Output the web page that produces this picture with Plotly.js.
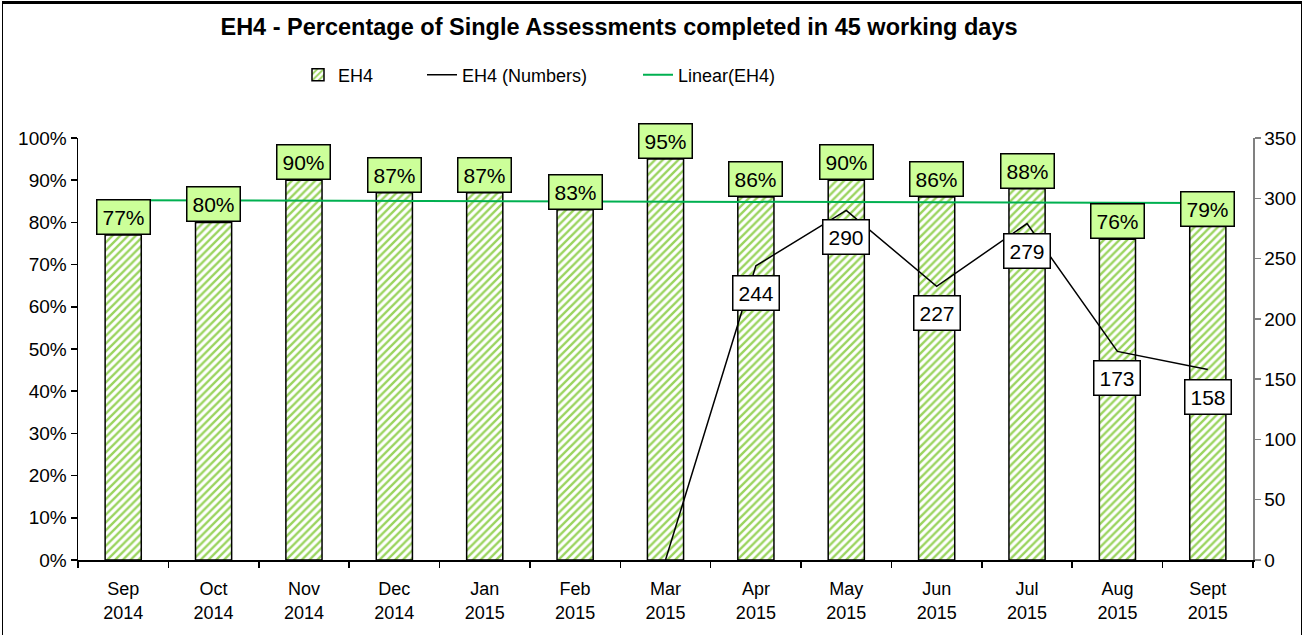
<!DOCTYPE html>
<html>
<head>
<meta charset="utf-8">
<script src="https://cdn.plot.ly/plotly-3.0.1.min.js"></script>
<style>
  html, body { margin: 0; padding: 0; background: #fff; }
  #wrap { position: relative; width: 1306px; height: 635px; }
  #chart { width: 1306px; height: 635px; }
  #frame { position: absolute; left: 2px; top: 1px; width: 1300px; height: 640px;
           border-top: 3px solid #000; border-left: 1.5px solid #000; border-right: 1.5px solid #000;
           pointer-events: none; box-sizing: border-box; }
</style>
</head>
<body>
<div id="wrap">
  <div id="chart"></div>
  <div id="frame"></div>
</div>
<script>
// ---- data ----
const months = ["Sep", "Oct", "Nov", "Dec", "Jan", "Feb", "Mar", "Apr", "May", "Jun", "Jul", "Aug", "Sept"];
const years = ["2014", "2014", "2014", "2014", "2015", "2015", "2015", "2015", "2015", "2015", "2015", "2015", "2015"];
const pctValues = [77, 80, 90, 87, 87, 83, 95, 86, 90, 86, 88, 76, 79];
const numberValues = [null, null, null, null, null, null, 0, 244, 290, 227, 279, 173, 158];
const leftTicks = [0, 10, 20, 30, 40, 50, 60, 70, 80, 90, 100];
const rightTicks = [0, 50, 100, 150, 200, 250, 300, 350];

const categories = months.map((m, i) => m + "<br>" + years[i]);
const pctFrac = pctValues.map(v => v / 100);

// linear trendline (least squares) of the EH4 percentages
const n = pctFrac.length;
const xs = pctFrac.map((_, i) => i);
const mx = xs.reduce((a, b) => a + b, 0) / n;
const my = pctFrac.reduce((a, b) => a + b, 0) / n;
let sxy = 0, sxx = 0;
for (let i = 0; i < n; i++) { sxy += (xs[i] - mx) * (pctFrac[i] - my); sxx += (xs[i] - mx) ** 2; }
const slope = sxy / sxx, intercept = my - slope * mx;
const trend = xs.map(x => intercept + slope * x);

const FONT = "Arial, 'Liberation Sans', sans-serif";

const traces = [
  {
    type: "bar", name: "EH4", x: categories, y: pctFrac, width: 0.4,
    marker: {
      color: "#ffffff",
      line: { color: "#000000", width: 1.5 },
      pattern: { shape: "/", fgcolor: "#9ad45e", bgcolor: "#ffffff", size: 5.5, solidity: 0.42 }
    },
    hoverinfo: "skip", legend: "legend"
  },
  {
    type: "scatter", mode: "lines", name: "EH4 (Numbers)", x: categories, y: numberValues,
    yaxis: "y2", line: { color: "#000000", width: 1.5 }, connectgaps: false,
    hoverinfo: "skip", legend: "legend2"
  },
  {
    type: "scatter", mode: "lines", name: "Linear(EH4)", x: categories, y: trend,
    line: { color: "#00b050", width: 2 }, hoverinfo: "skip", legend: "legend3"
  }
];

const annotations = [];
pctValues.forEach((v, i) => {
  annotations.push({
    x: categories[i], y: pctFrac[i], xref: "x", yref: "y",
    text: v + "%", showarrow: false, yanchor: "bottom", yshift: 0,
    font: { family: FONT, size: 21, color: "#000" },
    bgcolor: "#ccff99", bordercolor: "#000", borderwidth: 1.5, borderpad: 5
  });
});
numberValues.forEach((v, i) => {
  if (v !== null && v > 0) {
    annotations.push({
      x: categories[i], y: v, xref: "x", yref: "y2",
      text: String(v), showarrow: false, yanchor: "middle", yshift: -27,
      font: { family: FONT, size: 21, color: "#000" },
      bgcolor: "#ffffff", bordercolor: "#000", borderwidth: 1.5, borderpad: 5
    });
  }
});

const legendCommon = {
  orientation: "h", xref: "container", yref: "container", yanchor: "middle",
  font: { family: FONT, size: 18, color: "#000" }, bgcolor: "rgba(0,0,0,0)", y: 1 - 75 / 635
};

const layout = {
  width: 1306, height: 635,
  margin: { l: 78, r: 53, t: 138, b: 75 },
  paper_bgcolor: "#ffffff", plot_bgcolor: "#ffffff",
  font: { family: FONT, color: "#000" },
  title: {
    text: "<b>EH4 - Percentage of Single Assessments completed in 45 working days</b>",
    font: { family: FONT, size: 23.5, color: "#000" },
    x: 619 / 1306, xanchor: "center", xref: "container",
    y: 1 - 27 / 635, yanchor: "middle", yref: "container"
  },
  showlegend: true,
  legend: Object.assign({}, legendCommon, { x: 298 / 1306, xanchor: "left" }),
  legend2: Object.assign({}, legendCommon, { x: 422 / 1306, xanchor: "left" }),
  legend3: Object.assign({}, legendCommon, { x: 638 / 1306, xanchor: "left" }),
  bargap: 0.6,
  xaxis: {
    type: "category", showgrid: false, zeroline: false,
    showline: true, linecolor: "#000", linewidth: 1.5,
    ticks: "outside", tickson: "boundaries", ticklen: 6, tickcolor: "#000", tickwidth: 1.5,
    ticklabelstandoff: 12,
    tickfont: { family: FONT, size: 18, color: "#000" },
    range: [-0.5, n - 0.5], fixedrange: true
  },
  yaxis: {
    range: [0, 1], tickvals: leftTicks.map(t => t / 100), ticktext: leftTicks.map(t => t + "%"),
    showgrid: false, zeroline: false, showline: true, linecolor: "#000", linewidth: 1.5,
    ticks: "outside", ticklen: 6, tickcolor: "#000", tickwidth: 1.5,
    tickfont: { family: FONT, size: 19, color: "#000" }, fixedrange: true
  },
  yaxis2: {
    overlaying: "y", side: "right", range: [0, 350], tickvals: rightTicks,
    showgrid: false, zeroline: false, showline: true, linecolor: "#808080", linewidth: 1.5,
    ticks: "outside", ticklen: 6, tickcolor: "#808080", tickwidth: 1.5,
    tickfont: { family: FONT, size: 19, color: "#000" }, fixedrange: true
  },
  annotations: annotations
};

Plotly.newPlot("chart", traces, layout, { displayModeBar: false, staticPlot: true });
</script>
</body>
</html>
